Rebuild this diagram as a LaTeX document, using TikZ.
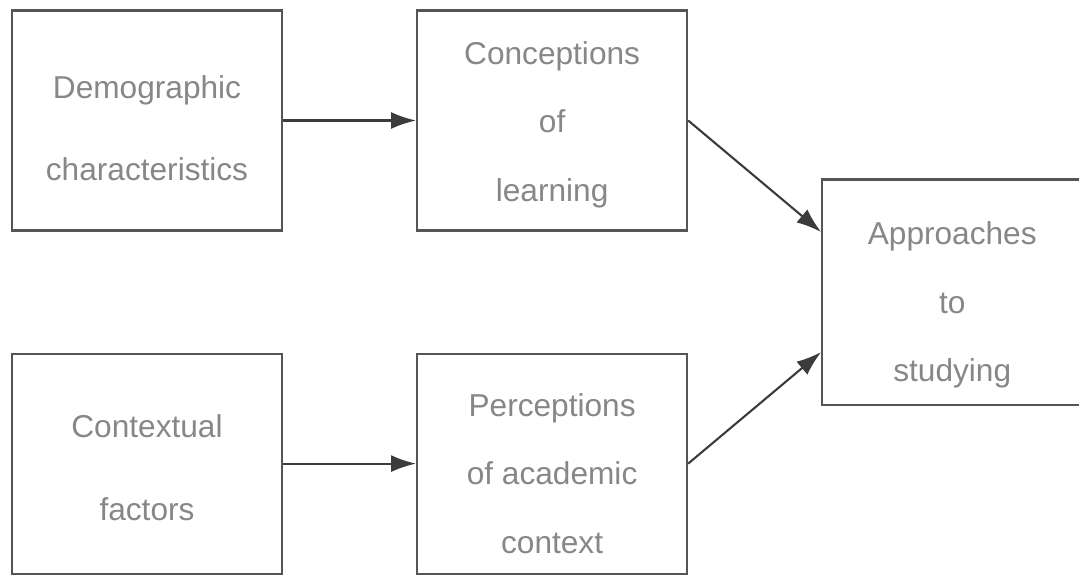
\documentclass[tikz,border=0pt]{standalone}
\usepackage{fontspec}
\setmainfont{Liberation Sans}
\usepackage{tikz}
\usetikzlibrary{shapes,arrows.meta}
\usetikzlibrary{positioning}
\usetikzlibrary{calc}
\definecolor{boxgray}{RGB}{85,85,85}
\definecolor{textgray}{RGB}{135,135,135}
\definecolor{arrowgray}{RGB}{60,60,60}
\newcommand\lift[1]{\rule{0pt}{#1}}
\newcommand\mystage[4][]{%
  \node[stage,#1,font=\fontsize{18}{#2}\selectfont] (#3) {#4};
}

\begin{document}
\begin{tikzpicture}[
node distance= 2.66cm,
stage/.style={
  rectangle,
  draw=boxgray,
  line width=1.2pt,
  text=textgray,
  minimum width=5.4cm,
  minimum height=4.4cm,
  align=center},
link/.style={
  -{Latex[length=5mm,width=3.4mm]},
  draw=arrowgray,
  line width=1.2pt}
]
\useasboundingbox (0,0) rectangle (21.58,-11.52);
\mystage[at={(2.94,-2.41)}]{47}{demo}{\lift{22pt}Demographic\\characteristics}
\mystage[right=of demo]{39}{concept}{\lift{17.5pt}Conceptions\\of\\learning}
\mystage[below=2.42cm of demo]{47}{context}{\lift{17.5pt}Contextual\\factors}
\mystage[right=of context]{39}{percept}{\lift{24.5pt}Perceptions\\of academic\\context}
\coordinate (mid) at ($(concept.east)!0.5!(percept.east)$);
\mystage[right=of mid,minimum width=5.2cm,minimum height=4.5cm]{39}{approach}{\lift{28pt}Approaches\\to\\studying}
\draw [link] (demo) -- (concept);
\draw [link] (context) -- (percept);
\draw [link] (concept.east) -- ([yshift=1.2cm]approach.west);
\draw [link] (percept.east) -- ([yshift=-1.2cm]approach.west);
\end{tikzpicture}
\end{document}
